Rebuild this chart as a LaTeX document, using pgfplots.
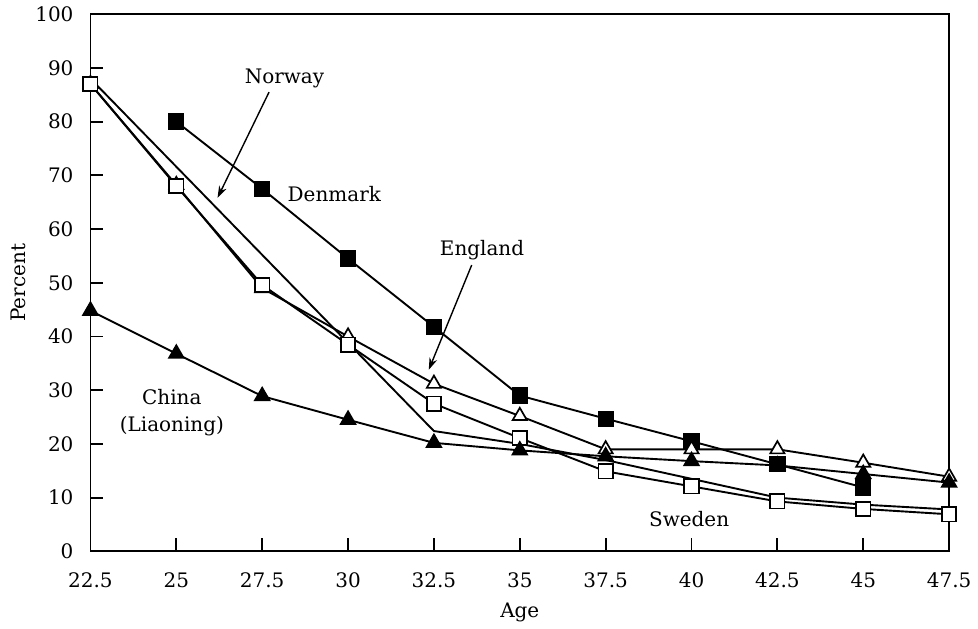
\documentclass[border=0pt]{standalone}
\usepackage{fontspec}
\setmainfont{DejaVu Serif}
\usepackage{pgfplots}
\pgfplotsset{compat=1.18}
\usetikzlibrary{arrows.meta}

\pgfplotstableread{
age  pct
25   80
27.5 67.5
30   54.5
32.5 41.8
35   29
37.5 24.7
40   20.5
42.5 16.2
45   11.9
}\denmark
\pgfplotstableread{
age  pct
22.5 87
25   68.2
27.5 49
30   40
32.5 31.2
35   25.2
37.5 19
40   19
42.5 19
45   16.5
47.5 13.9
}\england
\pgfplotstableread{
age  pct
22.5 87
25   68
27.5 49.6
30   38.5
32.5 27.5
35   21.1
37.5 14.9
40   12.1
42.5 9.3
45   7.9
47.5 6.9
}\sweden
\pgfplotstableread{
age  pct
22.5 44.8
25   36.8
27.5 28.9
30   24.5
32.5 20.2
35   18.8
37.5 17.7
40   16.8
42.5 16
45   14.4
47.5 12.8
}\china
\pgfplotstableread{
age  pct
22.5 88
32.5 22.4
35   20
37.5 17
40   13.5
42.5 10
45   8.7
47.5 7.8
}\norway

\begin{document}
\fontsize{10}{12}\selectfont
\begin{tikzpicture}
\begin{axis}[
    name=ax,
    scale only axis,
    width=430pt, height=269pt,
    xmin=22.5, xmax=47.5,
    ymin=0, ymax=100,
    xtick={22.5,25,...,47.5},
    ytick={0,10,...,100},
    xtick pos=left, ytick pos=left,
    tick align=inside,
    major tick length=6.5pt,
    axis line style={line width=0.9pt},
    tick style={line width=0.9pt, black},
    /pgf/number format/assume math mode=true,
    /pgf/number format/.cd, fixed, precision=1, /pgfplots/.cd,
    yticklabel style={xshift=-5pt},
    xticklabel style={yshift=-7pt},
    xlabel={Age},
    ylabel={Percent},
    xlabel style={yshift=-1pt},
    ylabel style={yshift=-2pt},
    clip=false,
    every axis plot/.append style={black, line width=0.95pt},
]
\addplot[mark=square*, mark size=3.6pt] table {\denmark};
\addplot[mark=triangle*, mark size=4.1pt, mark options={fill=white, line width=0.85pt}] table {\england};
\addplot[mark=square*, mark size=3.6pt, mark options={fill=white, line width=0.85pt}] table {\sweden};
\addplot[mark=triangle*, mark size=4.1pt] table {\china};
\addplot[no marks] table {\norway};

\node at (axis cs:28.15,88.1) {Norway};
\draw[-{Stealth[length=6pt,width=4pt]}, line width=0.7pt] (axis cs:27.7,85.5) -- (axis cs:26.2,65.8);
\node at (axis cs:29.6,66.5) {Denmark};
\node at (axis cs:33.9,56.1) {England};
\draw[-{Stealth[length=6pt,width=4pt]}, line width=0.7pt] (axis cs:33.6,53.3) -- (axis cs:32.35,33.8);
\node at (axis cs:24.87,28.8) {China};
\node at (axis cs:24.87,23.4) {(Liaoning)};
\node at (axis cs:39.93,6.1) {Sweden};
\end{axis}
\path (ax.south west) ++(-45.3pt,-38.5pt) rectangle ([shift={(13.65pt,7pt)}]ax.north east);
\end{tikzpicture}
\end{document}
